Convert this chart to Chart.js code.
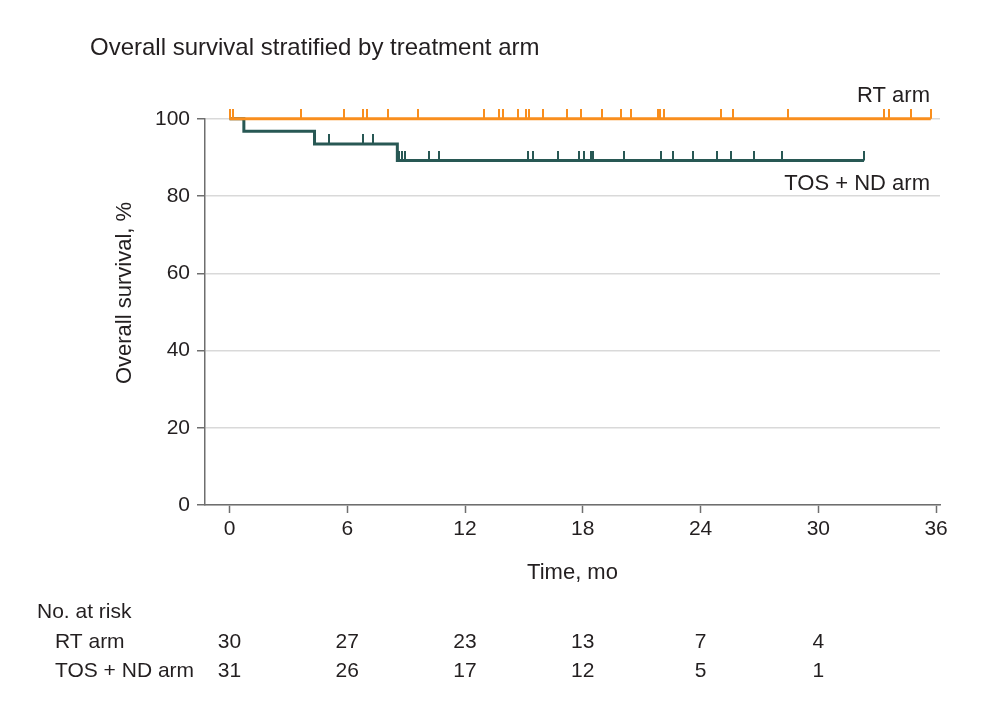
<!DOCTYPE html>
<html>
<head>
<meta charset="utf-8">
<script src="https://cdn.jsdelivr.net/npm/chart.js@4.4.0/dist/chart.umd.min.js"></script>
<style>
  html, body { margin: 0; padding: 0; background: #fff; }
  canvas { display: block; }
</style>
</head>
<body>
<canvas id="km" width="993" height="707"></canvas>
<script>
// data (time in months, survival in %)
var xTicks = [0, 6, 12, 18, 24, 30, 36];
var yTicks = [0, 20, 40, 60, 80, 100];

// KM steps: [time, survival]
var rtSteps = [[0, 100], [35.73, 100]];
var tosSteps = [[0, 100], [0.73, 96.8], [4.33, 93.5], [8.55, 89.2], [32.33, 89.2]];

// censor marks
var rtCensor = [0.0, 0.2, 3.66, 5.83, 6.8, 7.02, 8.07, 9.6, 12.95, 13.72, 13.94, 14.7, 15.13, 15.25,
  15.95, 17.22, 17.9, 19.0, 19.97, 20.48, 21.84, 21.93, 22.15, 25.02, 25.67, 28.47, 33.35, 33.62, 34.73, 35.73];
var tosCensor = [5.06, 6.82, 7.3, 8.62, 8.78, 8.96, 10.15, 10.66, 15.19, 15.44, 16.73, 17.79, 18.04,
  18.42, 18.53, 20.1, 21.98, 22.62, 23.59, 24.86, 25.54, 26.73, 28.17, 32.33];

// number at risk
var riskTimes = [0, 6, 12, 18, 24, 30];
var rtRisk = [30, 27, 23, 13, 7, 4];
var tosRisk = [31, 26, 17, 12, 5, 1];

var orange = '#f98e1d';
var teal = '#285854';
var txt = '#231f20';
var FONT = '"Liberation Sans", Arial, sans-serif';

// survival value at time t (last step at or before t)
function survAt(steps, t) {
    var v = steps[0][1];
    for (var i = 0; i < steps.length; i++) {
        if (steps[i][0] <= t) v = steps[i][1];
    }
    return v;
}
function toPts(steps) {
    return steps.map(function (s) { return {x: s[0], y: s[1]}; });
}
function censorPts(times, steps) {
    return times.map(function (t) { return {x: t, y: survAt(steps, t)}; });
}
// little upward tick, drawn centred on the point so only upper half is filled
function censorMark(color) {
    var c = document.createElement('canvas');
    c.width = 2; c.height = 20;
    var g = c.getContext('2d');
    g.fillStyle = color;
    g.fillRect(0, 0, 2, 10);
    return c;
}

var extras = {
    id: 'extras',
    afterDraw: function (chart) {
        var ctx = chart.ctx, xs = chart.scales.x, ys = chart.scales.y;
        var ca = chart.chartArea;
        ctx.save();
        ctx.fillStyle = txt;
        ctx.textBaseline = 'middle';

        // y axis title
        ctx.save();
        ctx.font = '22px ' + FONT;
        ctx.translate(125, 293);
        ctx.rotate(-Math.PI / 2);
        ctx.textAlign = 'center';
        ctx.fillText('Overall survival, %', 0, 0);
        ctx.restore();

        // curve labels
        ctx.font = '22px ' + FONT;
        ctx.textAlign = 'right';
        ctx.fillText('RT arm', ca.right - 10, ys.getPixelForValue(100) - 23);
        ctx.fillText('TOS + ND arm', ca.right - 10, ys.getPixelForValue(89.2) + 23);

        // risk table
        ctx.font = '21px ' + FONT;
        ctx.textAlign = 'left';
        ctx.fillText('No. at risk', 37, 612);
        ctx.fillText('RT arm', 55, 642);
        ctx.fillText('TOS + ND arm', 55, 671);
        ctx.textAlign = 'center';
        for (var i = 0; i < riskTimes.length; i++) {
            var px = xs.getPixelForValue(riskTimes[i]);
            ctx.fillText(String(rtRisk[i]), px, 642);
            ctx.fillText(String(tosRisk[i]), px, 671);
        }
        ctx.restore();
    }
};

var ctx = document.getElementById('km').getContext('2d');
var chart = new Chart(ctx, {
    type: 'line',
    data: {
        datasets: [
            {
                label: 'RT arm censored',
                type: 'scatter',
                data: censorPts(rtCensor, rtSteps),
                pointStyle: censorMark(orange),
                pointRadius: 5,
                clip: false
            },
            {
                label: 'RT arm',
                data: toPts(rtSteps),
                borderColor: orange,
                borderWidth: 3,
                stepped: true,
                pointRadius: 0,
                fill: false,
                clip: false
            },
            {
                label: 'TOS + ND arm censored',
                type: 'scatter',
                data: censorPts(tosCensor, tosSteps),
                pointStyle: censorMark(teal),
                pointRadius: 5,
                clip: false
            },
            {
                label: 'TOS + ND arm',
                data: toPts(tosSteps),
                borderColor: teal,
                borderWidth: 3,
                stepped: true,
                pointRadius: 0,
                fill: false,
                clip: false
            }
        ]
    },
    options: {
        responsive: false,
        animation: false,
        devicePixelRatio: 1,
        layout: {padding: {left: 90, right: 53, top: 0, bottom: 117}},
        plugins: {
            legend: {display: false},
            tooltip: {enabled: false},
            title: {
                display: true,
                text: 'Overall survival stratified by treatment arm',
                align: 'start',
                color: txt,
                font: {family: FONT, size: 24, weight: 'normal'},
                padding: {top: 34, bottom: 56}
            }
        },
        scales: {
            x: {
                type: 'linear',
                min: -1.25,
                max: 36.2,
                afterBuildTicks: function (scale) {
                    scale.ticks = xTicks.map(function (v) { return {value: v}; });
                },
                afterFit: function (scale) { scale.height = 85; },
                border: {color: '#6e6e6e', width: 1.5},
                grid: {drawOnChartArea: false, drawTicks: true, tickLength: 8, tickColor: '#6e6e6e', tickWidth: 1.5},
                ticks: {color: txt, font: {family: FONT, size: 21}, padding: 4, autoSkip: false, maxRotation: 0},
                title: {display: true, text: 'Time, mo', color: txt, font: {family: FONT, size: 22}, padding: {top: 0, bottom: 4}}
            },
            y: {
                min: 0,
                max: 100,
                afterBuildTicks: function (scale) {
                    scale.ticks = yTicks.map(function (v) { return {value: v}; });
                },
                afterFit: function (scale) { scale.width = 115; },
                border: {color: '#6e6e6e', width: 1.5},
                grid: {color: '#d9d9d9', lineWidth: 1.5, drawTicks: true, tickLength: 8, tickColor: '#6e6e6e', tickWidth: 1.5},
                ticks: {color: txt, font: {family: FONT, size: 21}, padding: 7}
            }
        }
    },
    plugins: [extras]
});
</script>
</body>
</html>
